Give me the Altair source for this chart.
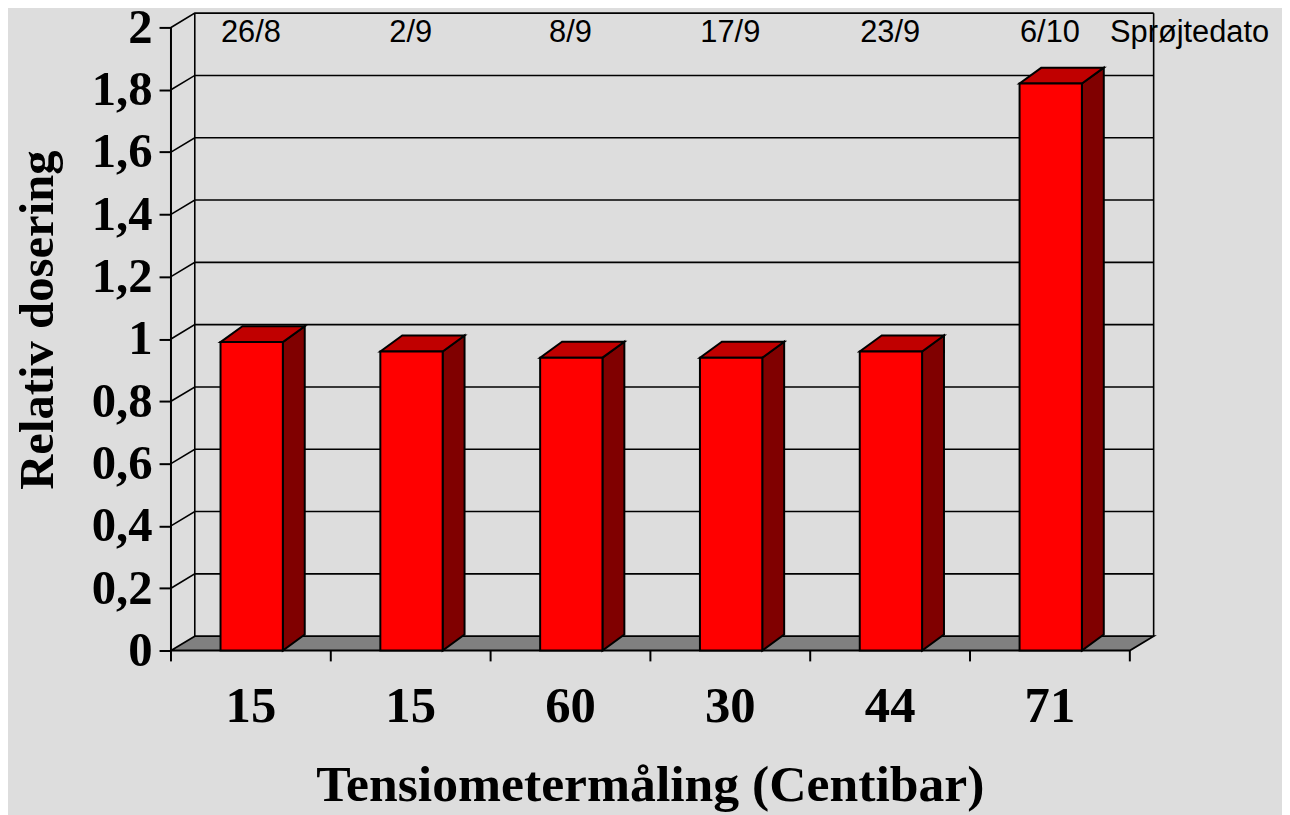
import altair as alt
import pandas as pd

# ---- data ----
dates = ["26/8", "2/9", "8/9", "17/9", "23/9", "6/10"]
tension = ["15", "15", "60", "30", "44", "71"]
dosing = [0.99, 0.96, 0.94, 0.94, 0.96, 1.82]
y_ticks = [0, 0.2, 0.4, 0.6, 0.8, 1.0, 1.2, 1.4, 1.6, 1.8, 2.0]
date_caption = "Sprøjtedato"
x_title = "Tensiometermåling (Centibar)"
y_title = "Relativ dosering"

# ---- geometry / style (data units of the scales) ----
N = len(dosing)
YTOP = 2.0
BAR_L, BAR_R = 0.31, 0.70      # bar front face within its category
DXB, DYB = 0.137, 0.051        # bar depth
DXW, DYW = 0.149, 0.046        # wall depth
XMAX, YMAX = 6.15, 2.048
W, H = 989, 642

BG = "#DDDDDD"
FLOOR = "#808080"
RED, RED_TOP, RED_SIDE = "#FF0000", "#C00000", "#800000"
SERIF = "Liberation Serif"
SANS = "Liberation Sans"

xs = alt.Scale(domain=[0, XMAX], nice=False, zero=False)
ys = alt.Scale(domain=[0, YMAX], nice=False, zero=False)
yaxis = alt.Axis(
    values=y_ticks,
    labelExpr="replace(format(datum.value, '.1~f'), '.', ',')",
    domain=False, grid=False, ticks=True, tickSize=12, tickWidth=2, tickColor="black",
    labelFont=SERIF, labelFontWeight="bold", labelFontSize=49, labelColor="black",
    labelPadding=7, labelBaseline="middle",
    title=y_title, titleFont=SERIF, titleFontWeight="bold", titleFontSize=49,
    titleColor="black", titleAngle=270, titleAlign="center", titleBaseline="alphabetic",
    titleX=-119, titleY=309,
)

def X(f):
    return alt.X(f, type="quantitative", scale=xs, axis=None)

def Y(f):
    return alt.Y(f, type="quantitative", scale=ys, axis=yaxis, stack=None)

# ---- tables built from the arrays ----
grid_rows = []
for g, v in enumerate(y_ticks[1:]):
    grid_rows += [
        {"g": g, "p": 0, "x": 0.0, "y": v},
        {"g": g, "p": 1, "x": DXW, "y": v + DYW},
        {"g": g, "p": 2, "x": N + DXW, "y": v + DYW},
    ]
grid = pd.DataFrame(grid_rows)

walls = pd.DataFrame({"x": [DXW, N + DXW], "y": [DYW, DYW], "y2": [YTOP + DYW, YTOP + DYW]})
front_axis = pd.DataFrame({"x": [0.0], "y": [0.0], "y2": [YTOP]})
floor = pd.DataFrame({"y": [0.0, DYW], "x": [0.0, DXW], "x2": [float(N), N + DXW]})
xticks = pd.DataFrame({"x": [float(k) for k in range(N + 1)], "y": [0.0] * (N + 1), "y2": [-0.035] * (N + 1)})

front = pd.DataFrame({
    "i": list(range(N)),
    "x": [i + BAR_L for i in range(N)],
    "x2": [i + BAR_R for i in range(N)],
    "y": [0.0] * N,
    "y2": dosing,
})
side_rows, top_rows = [], []
for i, v in enumerate(dosing):
    side_rows += [
        {"i": i, "x": i + BAR_R, "y": v, "y2": 0.0},
        {"i": i, "x": i + BAR_R + DXB, "y": v + DYB, "y2": DYB},
    ]
    top_rows += [
        {"i": i, "y": v, "x": i + BAR_L, "x2": i + BAR_R},
        {"i": i, "y": v + DYB, "x": i + BAR_L + DXB, "x2": i + BAR_R + DXB},
    ]
side = pd.DataFrame(side_rows)
top = pd.DataFrame(top_rows)

cat_labels = pd.DataFrame({"x": [i + 0.5 for i in range(N)], "y": [0.0] * N,
                           "t": tension, "d": dates, "yd": [YTOP] * N})

# ---- layers ----
grid_layer = alt.Chart(grid).mark_line(color="black", strokeWidth=1.6).encode(
    x=X("x"), y=Y("y"), detail="g:N", order="p:O")
wall_layer = alt.Chart(walls).mark_rule(color="black", strokeWidth=1.6).encode(
    x=X("x"), y=Y("y"), y2="y2")
floor_layer = alt.Chart(floor).mark_area(
    orient="horizontal", fill=FLOOR, stroke="black", strokeWidth=1.8, strokeJoin="miter", opacity=1
).encode(y=Y("y"), x=X("x"), x2="x2")
axis_line = alt.Chart(front_axis).mark_rule(color="black", strokeWidth=2).encode(
    x=X("x"), y=Y("y"), y2="y2")
tick_layer = alt.Chart(xticks).mark_rule(color="black", strokeWidth=2).encode(
    x=X("x"), y=Y("y"), y2="y2")

side_layer = alt.Chart(side).mark_area(
    orient="vertical", fill=RED_SIDE, stroke="black", strokeWidth=2, strokeJoin="miter", opacity=1
).encode(x=X("x"), y=Y("y"), y2="y2", detail="i:N")
top_layer = alt.Chart(top).mark_area(
    orient="horizontal", fill=RED_TOP, stroke="black", strokeWidth=2, strokeJoin="miter", opacity=1
).encode(y=Y("y"), x=X("x"), x2="x2", detail="i:N")
front_layer = alt.Chart(front).mark_rect(
    fill=RED, stroke="black", strokeWidth=2, strokeJoin="miter", opacity=1
).encode(x=X("x"), x2="x2", y=Y("y"), y2="y2")

xlab_layer = alt.Chart(cat_labels).mark_text(
    font=SERIF, fontWeight="bold", fontSize=51, color="black",
    baseline="alphabetic", align="center", dy=71.6
).encode(x=X("x"), y=Y("y"), text="t:N")
date_layer = alt.Chart(cat_labels).mark_text(
    font=SANS, fontSize=31, color="black", baseline="alphabetic", align="center", dy=15
).encode(x=X("x"), y=Y("yd"), text="d:N")
caption_layer = alt.Chart(pd.DataFrame({"x": [float(N)], "y": [YTOP], "t": [date_caption]})).mark_text(
    font=SANS, fontSize=31, color="black", baseline="alphabetic", align="left", dx=-20, dy=15
).encode(x=X("x"), y=Y("y"), text="t:N")
xtitle_layer = alt.Chart(pd.DataFrame({"x": [N / 2], "y": [0.0], "t": [x_title]})).mark_text(
    font=SERIF, fontWeight="bold", fontSize=52, color="black",
    baseline="alphabetic", align="center", dy=151.6
).encode(x=X("x"), y=Y("y"), text="t:N")

chart = alt.layer(
    grid_layer, wall_layer, floor_layer, axis_line, tick_layer,
    side_layer, top_layer, front_layer,
    xlab_layer, date_layer, caption_layer, xtitle_layer,
).properties(
    width=W, height=H,
    autosize=alt.AutoSizeParams(type="none"),
    padding={"left": 164, "top": 2, "right": 129, "bottom": 163},
    background=BG,
).configure_view(stroke=None)

chart.save("out.html", embed_options={"renderer": "svg", "actions": False})
